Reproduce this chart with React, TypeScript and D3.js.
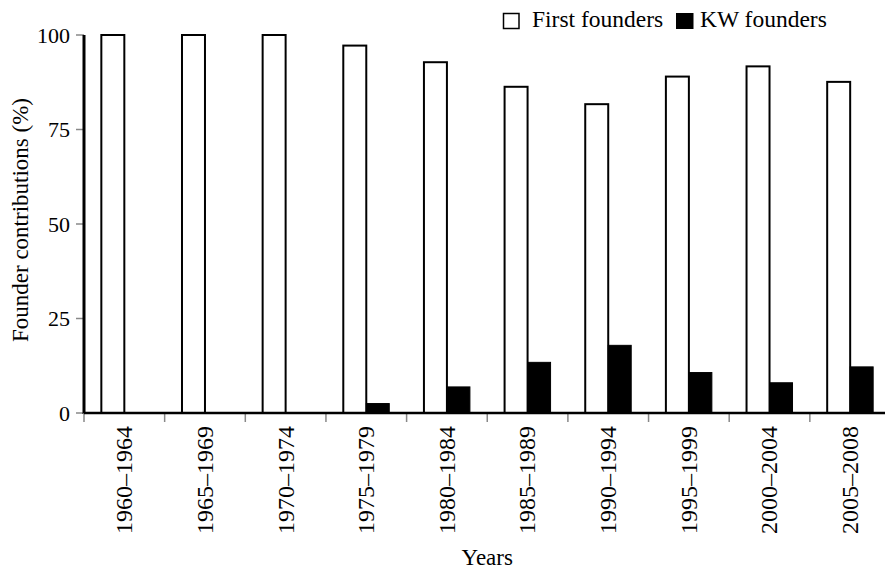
import React from "react";
import * as d3 from "d3";

const categories = [
  "1960–1964",
  "1965–1969",
  "1970–1974",
  "1975–1979",
  "1980–1984",
  "1985–1989",
  "1990–1994",
  "1995–1999",
  "2000–2004",
  "2005–2008",
];
const seriesNames = ["First founders", "KW founders"];
const firstFounders = [100, 100, 100, 97.2, 92.8, 86.3, 81.7, 89.0, 91.7, 87.6];
const kwFounders = [0, 0, 0, 2.5, 6.9, 13.4, 17.9, 10.7, 8.0, 12.2];
const yTicks = [0, 25, 50, 75, 100];

const W = 885;
const H = 572;
const FONT = "'Liberation Serif', 'Times New Roman', serif";

export default function App() {
  const left = 84;
  const right = 890.5;
  const bottom = 413;
  const top = 35;

  const x0 = d3
    .scaleBand<string>()
    .domain(categories)
    .range([left, right])
    .paddingInner(0.43)
    .paddingOuter(0.215);
  const x1 = d3
    .scaleBand<string>()
    .domain(seriesNames)
    .range([0, x0.bandwidth()]);
  const y = d3.scaleLinear().domain([0, 100]).range([bottom, top]);

  const step = x0.step();
  const boundaries = d3.range(categories.length + 1).map((i) => left + i * step);

  const rows = categories.map((c, i) => ({
    cat: c,
    values: [firstFounders[i], kwFounders[i]],
  }));

  return (
    <svg
      width={W}
      height={H}
      style={{ position: "absolute", left: 0, top: 0, display: "block", background: "#fff" }}
      fontFamily={FONT}
    >
      <rect x={0} y={0} width={W} height={H} fill="#fff" />
      {/* bars */}
      {rows.map((r) => (
        <g key={r.cat} transform={`translate(${x0(r.cat)},0)`}>
          {r.values.map((v, j) =>
            v > 0 ? (
              <rect
                key={j}
                x={x1(seriesNames[j])}
                y={y(v)}
                width={x1.bandwidth()}
                height={bottom - y(v)}
                fill={j === 0 ? "#fff" : "#000"}
                stroke="#000"
                strokeWidth={j === 0 ? 2 : 1}
              />
            ) : null
          )}
        </g>
      ))}
      {/* y axis */}
      {yTicks.map((t) => (
        <g key={t}>
          <line x1={76} x2={84} y1={y(t)} y2={y(t)} stroke="#888" strokeWidth={1.5} />
          <text
            x={70}
            y={y(t)}
            dy="0.35em"
            textAnchor="end"
            fontSize={22}
            fill="#000"
          >
            {t}
          </text>
        </g>
      ))}
      <line x1={84} x2={84} y1={top} y2={bottom + 1} stroke="#000" strokeWidth={3} />
      {/* x axis */}
      {boundaries.map((b, i) => (
        <line key={i} x1={b} x2={b} y1={bottom} y2={bottom + 9} stroke="#888" strokeWidth={1.5} />
      ))}
      <line x1={left} x2={W} y1={bottom} y2={bottom} stroke="#000" strokeWidth={2.5} />
      {categories.map((c) => {
        const cx = (x0(c) as number) + x0.bandwidth() / 2;
        return (
          <text
            key={c}
            transform={`translate(${cx},${426}) rotate(-90)`}
            dy="0.33em"
            textAnchor="end"
            fontSize={24}
            fill="#000"
          >
            {c}
          </text>
        );
      })}
      {/* axis titles */}
      <text
        transform={`translate(28,${(top + bottom) / 2 - 4}) rotate(-90)`}
        textAnchor="middle"
        fontSize={23}
        fill="#000"
      >
        Founder contributions (%)
      </text>
      <text x={(left + right) / 2} y={565} textAnchor="middle" fontSize={23}>
        Years
      </text>
      {/* legend */}
      <rect x={503.5} y={13.5} width={15.5} height={15} fill="#fff" stroke="#000" strokeWidth={1.5} />
      <text x={532} y={27} fontSize={23.5} fill="#000">
        {seriesNames[0]}
      </text>
      <rect x={676} y={13} width={17.5} height={16} fill="#000" />
      <text x={700} y={27} fontSize={23.5} fill="#000">
        {seriesNames[1]}
      </text>
    </svg>
  );
}
